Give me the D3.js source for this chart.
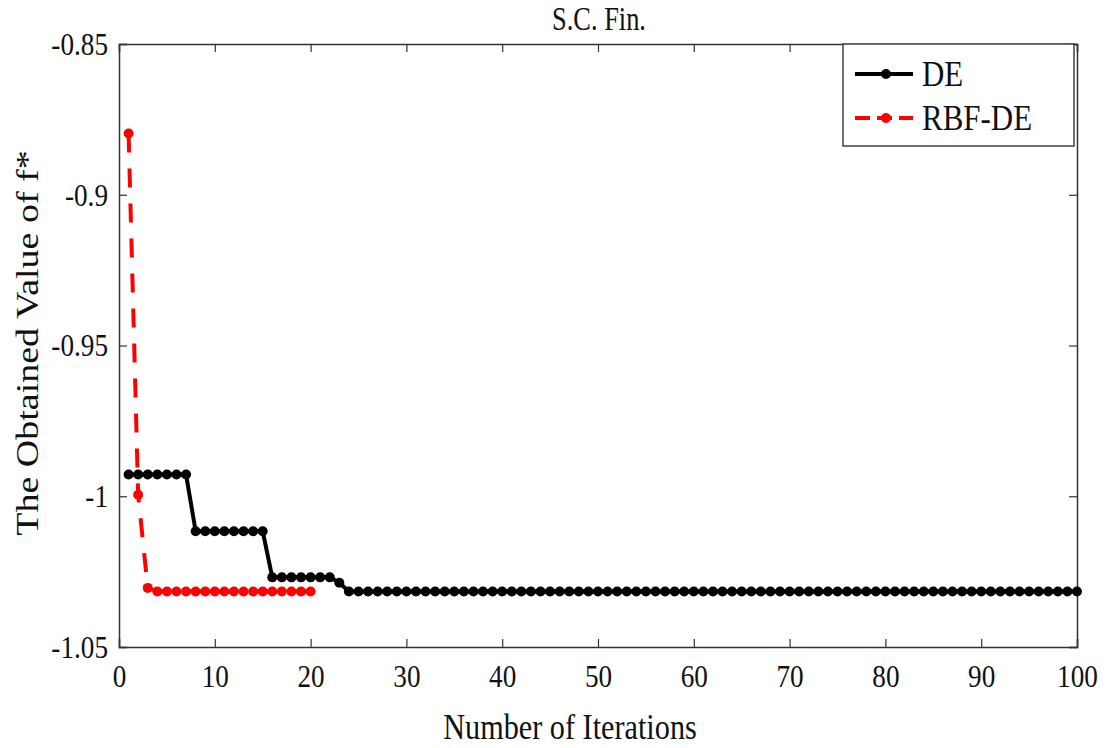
<!DOCTYPE html>
<html>
<head>
<meta charset="utf-8">
<script src="https://cdn.jsdelivr.net/npm/d3@7"></script>
<style>
  html, body { margin: 0; padding: 0; background: #fff; }
  svg { display: block; font-family: "Liberation Serif", "Times New Roman", Times, serif; }
  text { font-family: "Liberation Serif", "Times New Roman", Times, serif; fill: #111; }
</style>
</head>
<body>
<svg id="chart" width="1107" height="748"></svg>
<script>
// Convergence history: best objective value per iteration
const deValues = [
  -0.9928, -0.9928, -0.9928, -0.9928, -0.9928, -0.9928, -0.9928,
  -1.0116, -1.0116, -1.0116, -1.0116, -1.0116, -1.0116, -1.0116, -1.0116,
  -1.0269, -1.0269, -1.0269, -1.0269, -1.0269, -1.0269, -1.0269,
  -1.0287,
  -1.0316, -1.0316, -1.0316, -1.0316, -1.0316, -1.0316, -1.0316, -1.0316, -1.0316, -1.0316,
  -1.0316, -1.0316, -1.0316, -1.0316, -1.0316, -1.0316, -1.0316, -1.0316, -1.0316, -1.0316,
  -1.0316, -1.0316, -1.0316, -1.0316, -1.0316, -1.0316, -1.0316, -1.0316, -1.0316, -1.0316,
  -1.0316, -1.0316, -1.0316, -1.0316, -1.0316, -1.0316, -1.0316, -1.0316, -1.0316, -1.0316,
  -1.0316, -1.0316, -1.0316, -1.0316, -1.0316, -1.0316, -1.0316, -1.0316, -1.0316, -1.0316,
  -1.0316, -1.0316, -1.0316, -1.0316, -1.0316, -1.0316, -1.0316, -1.0316, -1.0316, -1.0316,
  -1.0316, -1.0316, -1.0316, -1.0316, -1.0316, -1.0316, -1.0316, -1.0316, -1.0316, -1.0316,
  -1.0316, -1.0316, -1.0316, -1.0316, -1.0316, -1.0316, -1.0316
];
const rbfDeValues = [
  -0.8797, -0.9995, -1.0304,
  -1.0316, -1.0316, -1.0316, -1.0316, -1.0316, -1.0316, -1.0316, -1.0316, -1.0316,
  -1.0316, -1.0316, -1.0316, -1.0316, -1.0316, -1.0316, -1.0316, -1.0316
];
const xTicks = [0, 10, 20, 30, 40, 50, 60, 70, 80, 90, 100];
const yTicks = [-0.85, -0.9, -0.95, -1, -1.05];
const seriesNames = ["DE", "RBF-DE"];

const svg = d3.select("#chart");
const plot = { left: 119, right: 1077, top: 44, bottom: 647 };

const x = d3.scaleLinear().domain([0, 100]).range([plot.left, plot.right]);
const y = d3.scaleLinear().domain([-1.05, -0.85]).range([plot.bottom, plot.top]);

const axisColor = "#333";
const serif = '"Liberation Serif", "Times New Roman", Times, serif';
const squeeze = 0.85;   // narrow serif lettering

// Axes with inward ticks (box style)
const bottomAxis = d3.axisBottom(x).tickValues(xTicks).tickSize(-8).tickPadding(17)
  .tickFormat(d3.format("d"));
const leftAxis = d3.axisLeft(y).tickValues(yTicks).tickSize(-8).tickPadding(11)
  .tickFormat(d => String(d));
const topAxis = d3.axisTop(x).tickValues(xTicks).tickSize(-8).tickFormat("");
const rightAxis = d3.axisRight(y).tickValues(yTicks).tickSize(-8).tickFormat("");

function styleAxis(g) {
  g.attr("font-family", null).attr("font-size", null);
  g.select(".domain").attr("stroke", axisColor).attr("stroke-width", 1.5);
  g.selectAll(".tick line").attr("stroke", axisColor).attr("stroke-width", 1.2);
  g.selectAll(".tick text")
    .style("font-family", serif)
    .style("font-size", "32px")
    .attr("fill", "#111");
}

svg.append("g").attr("transform", `translate(0,${plot.bottom})`).call(bottomAxis).call(styleAxis)
  .selectAll(".tick text").attr("transform", `scale(${squeeze},1)`);
svg.append("g").attr("transform", `translate(${plot.left},0)`).call(leftAxis).call(styleAxis)
  .selectAll(".tick text")
  .attr("x", -11 / squeeze)
  .attr("transform", `scale(${squeeze},1)`);
svg.append("g").attr("transform", `translate(0,${plot.top})`).call(topAxis).call(styleAxis);
svg.append("g").attr("transform", `translate(${plot.right},0)`).call(rightAxis).call(styleAxis);

// Series
const line = d3.line().x((d, i) => x(i + 1)).y(d => y(d));

svg.append("path").datum(deValues)
  .attr("d", line).attr("fill", "none")
  .attr("stroke", "#000").attr("stroke-width", 4).attr("stroke-linejoin", "round");
svg.append("g").selectAll("circle").data(deValues).join("circle")
  .attr("cx", (d, i) => x(i + 1)).attr("cy", d => y(d)).attr("r", 5).attr("fill", "#000");

svg.append("path").datum(rbfDeValues)
  .attr("d", line).attr("fill", "none")
  .attr("stroke", "#ff0000").attr("stroke-width", 4)
  .attr("stroke-dasharray", "19,16");
svg.append("g").selectAll("circle").data(rbfDeValues).join("circle")
  .attr("cx", (d, i) => x(i + 1)).attr("cy", d => y(d)).attr("r", 5).attr("fill", "#ff0000");

// Title and axis labels
svg.append("text").attr("transform", `translate(599,30) scale(0.8,1)`).attr("text-anchor", "middle")
  .style("font-size", "33px").text("S.C. Fin.");
svg.append("text").attr("transform", `translate(570,739) scale(0.84,1)`).attr("text-anchor", "middle")
  .style("font-size", "36px").text("Number of Iterations");
svg.append("text")
  .attr("transform", `translate(38,343) scale(0.84,1) rotate(-90)`)
  .attr("text-anchor", "middle").style("font-size", "38px").text("The Obtained Value of f*");

// Legend
const legend = svg.append("g");
legend.append("rect").attr("x", 843).attr("y", 44).attr("width", 231).attr("height", 102)
  .attr("fill", "#fff").attr("stroke", axisColor).attr("stroke-width", 1.4);
const legendRows = [
  { name: seriesNames[0], color: "#000", dash: null, cy: 74 },
  { name: seriesNames[1], color: "#ff0000", dash: "15,7", cy: 118 }
];
legendRows.forEach(r => {
  legend.append("line").attr("x1", 855).attr("x2", 913).attr("y1", r.cy).attr("y2", r.cy)
    .attr("stroke", r.color).attr("stroke-width", 4).attr("stroke-dasharray", r.dash);
  legend.append("circle").attr("cx", 886).attr("cy", r.cy).attr("r", 5).attr("fill", r.color);
  legend.append("text").attr("transform", `translate(922,${r.cy + 12}) scale(0.86,1)`)
    .style("font-size", "36px").text(r.name);
});
</script>
</body>
</html>
